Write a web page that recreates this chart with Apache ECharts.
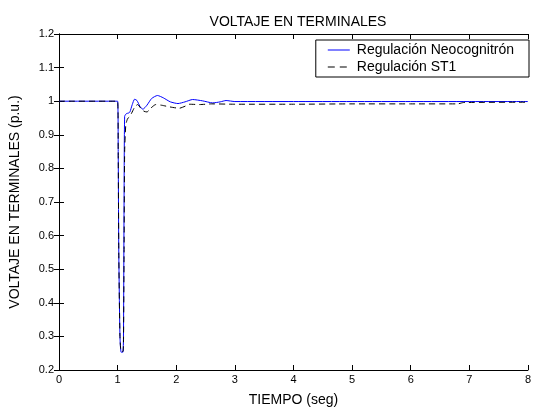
<!DOCTYPE html>
<html>
<head>
<meta charset="utf-8">
<script src="https://cdn.jsdelivr.net/npm/echarts@6/dist/echarts.min.js"></script>
<style>html,body{margin:0;padding:0;background:#fff;}#c{width:534px;height:412px;}</style>
</head>
<body>
<div id="c"></div>
<script>
// Time (s) and voltage (p.u.)
const tNeo = [0, 1.0, 1.01, 1.02, 1.04, 1.06, 1.09, 1.10, 1.11, 1.12, 1.15, 1.19, 1.21, 1.25, 1.29, 1.33, 1.38, 1.43, 1.50, 1.58, 1.68, 1.78, 1.90, 2.03, 2.15, 2.28, 2.45, 2.62, 2.75, 2.85, 3.0, 4.0, 5.0, 6.0, 7.0, 8.0];
const vNeo = [1.0, 1.0, 0.85, 0.55, 0.30, 0.253, 0.253, 0.30, 0.70, 0.955, 0.963, 0.965, 0.968, 0.99, 1.006, 1.002, 0.985, 0.976, 0.988, 1.008, 1.017, 1.010, 0.998, 0.993, 0.998, 1.005, 1.001, 0.995, 0.998, 1.002, 0.999, 0.999, 0.999, 0.999, 0.999, 0.999];
const tST1 = [0, 1.0, 1.01, 1.02, 1.04, 1.06, 1.09, 1.10, 1.11, 1.12, 1.14, 1.17, 1.20, 1.24, 1.29, 1.34, 1.40, 1.45, 1.50, 1.57, 1.65, 1.75, 1.89, 2.05, 2.15, 2.22, 2.40, 2.60, 3.0, 4.0, 5.0, 6.0, 6.8, 6.9, 8.0];
const vST1 = [1.0, 1.0, 0.85, 0.55, 0.30, 0.255, 0.255, 0.28, 0.55, 0.85, 0.93, 0.948, 0.953, 0.965, 0.982, 0.990, 0.978, 0.970, 0.968, 0.980, 0.990, 0.988, 0.983, 0.979, 0.985, 0.991, 0.990, 0.992, 0.991, 0.991, 0.992, 0.992, 0.992, 0.996, 0.997];
const xTicks = [0, 1, 2, 3, 4, 5, 6, 7, 8];
const yTicks = [0.2, 0.3, 0.4, 0.5, 0.6, 0.7, 0.8, 0.9, 1, 1.1, 1.2];
const seriesNames = ['Regulación Neocognitrón', 'Regulación ST1'];

const FONT = '"Liberation Sans", Arial, sans-serif';
const zip = (a, b) => a.map((x, i) => [x, b[i]]);
const axisCommon = {
  axisLine: { show: true, lineStyle: { color: '#000', width: 1 } },
  axisTick: { show: true, inside: true, length: 5, lineStyle: { color: '#000' } },
  splitLine: { show: false }
};
const chart = echarts.init(document.getElementById('c'), null, { renderer: 'canvas' });
chart.setOption({
  animation: false,
  backgroundColor: '#fff',
  title: {
    text: 'VOLTAJE EN TERMINALES',
    left: 293, top: 10, textAlign: 'center',
    textStyle: { fontFamily: FONT, fontSize: 14, fontWeight: 'normal', color: '#000' }
  },
  grid: { left: 56, right: 4, top: 34, bottom: 36, show: false },
  legend: {
    show: true,
    orient: 'vertical',
    right: 5, top: 40,
    backgroundColor: '#fff',
    borderColor: '#000', borderWidth: 1,
    borderRadius: 0,
    padding: [3, 15, 3, 12],
    itemWidth: 22, itemHeight: 1, itemGap: 3,
    textStyle: { fontFamily: FONT, fontSize: 14, color: '#000', padding: [0, 0, 0, 2] },
    data: [
      { name: seriesNames[0], icon: 'path://M0,0H22V1H0Z' },
      { name: seriesNames[1], icon: 'path://M0,0H7V1H0Z M12,0H19V1H12Z M22,0H22V1H22Z' }
    ]
  },
  xAxis: [
    Object.assign({}, axisCommon, {
      type: 'value', min: 0, max: 8, interval: 1, position: 'bottom',
      name: 'TIEMPO (seg)', nameLocation: 'middle', nameGap: 23,
      nameTextStyle: { fontFamily: FONT, fontSize: 14, color: '#000' },
      axisLabel: { fontFamily: FONT, fontSize: 11, color: '#000', margin: 4,
        formatter: v => xTicks.includes(v) ? String(v) : '' }
    }),
    Object.assign({}, axisCommon, {
      type: 'value', min: 0, max: 8, interval: 1, position: 'top',
      axisLabel: { show: false }
    })
  ],
  yAxis: [
    Object.assign({}, axisCommon, {
      type: 'value', min: 0.2, max: 1.2, interval: 0.1, position: 'left',
      name: 'VOLTAJE EN TERMINALES (p.u.)', nameLocation: 'middle', nameGap: 37,
      nameTextStyle: { fontFamily: FONT, fontSize: 14, color: '#000' },
      axisLabel: { fontFamily: FONT, fontSize: 11, color: '#000', margin: 5,
        formatter: v => String(Math.round(v * 10) / 10) }
    }),
    Object.assign({}, axisCommon, {
      type: 'value', min: 0.2, max: 1.2, interval: 0.1, position: 'right',
      axisLabel: { show: false }
    })
  ],
  series: [
    {
      name: seriesNames[0], type: 'line', data: zip(tNeo, vNeo), symbol: 'none',
      smooth: 0.2, z: 2, xAxisIndex: 0, yAxisIndex: 0,
      lineStyle: { color: '#0000ff', width: 1 }, itemStyle: { color: '#0000ff' }
    },
    {
      name: seriesNames[1], type: 'line', data: zip(tST1, vST1), symbol: 'none',
      smooth: 0.2, z: 3, xAxisIndex: 0, yAxisIndex: 0,
      lineStyle: { color: '#000', width: 1, type: [6, 4] }, itemStyle: { color: '#000' }
    }
  ]
});
</script>
</body>
</html>
